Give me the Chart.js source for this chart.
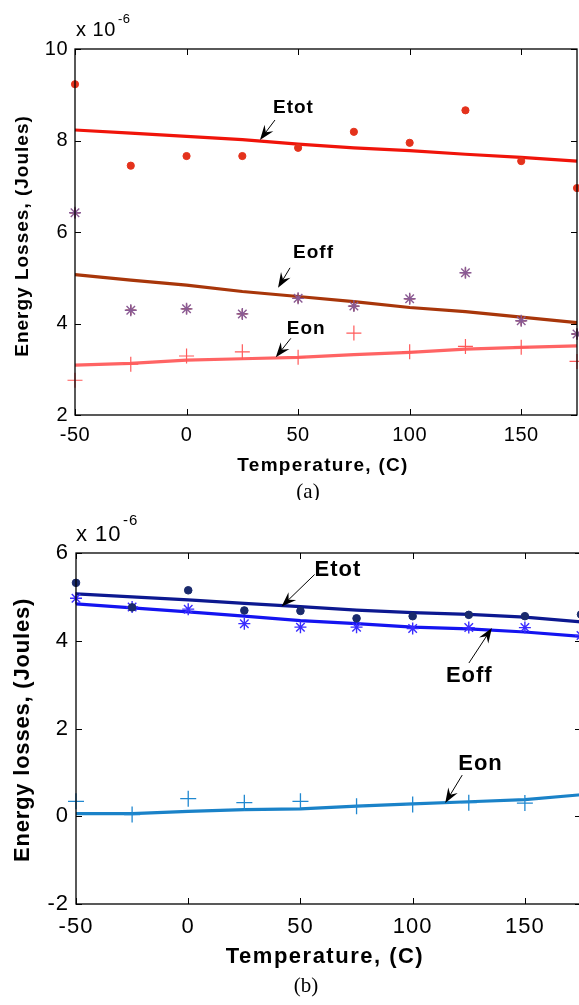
<!DOCTYPE html>
<html lang="en">
<head>
<meta charset="UTF-8">
<title>Energy losses vs temperature</title>
<script src="https://cdn.jsdelivr.net/npm/chart.js"></script>
<style>
  html, body { margin: 0; padding: 0; background: #fff; overflow: hidden; }
  #wrap { position: relative; width: 579px; height: 1005px; overflow: hidden; }
  canvas { position: absolute; left: 0; }
  #chartA { top: 0; }
  #chartB { top: 500px; }
</style>
</head>
<body>
<div id="wrap">
  <canvas id="chartA" width="579" height="500"></canvas>
  <canvas id="chartB" width="590" height="505"></canvas>
</div>
<script>
// temperatures (C), shared by both panels
const temps = [-50, -25, 0, 25, 50, 75, 100, 125, 150, 175];
const xTicks = [-50, 0, 50, 100, 150];

// panel (a), values x 10^-6 J
const aEtotPts = [9.23, 7.45, 7.66, 7.66, 7.84, 8.19, 7.95, 8.66, 7.55, 6.96];
const aEtotFit = [8.23, 8.16, 8.09, 8.02, 7.92, 7.84, 7.78, 7.70, 7.63, 7.55];
const aEoffPts = [6.42, 4.29, 4.32, 4.21, 4.55, 4.38, 4.54, 5.11, 4.06, 3.77];
const aEoffFit = [5.07, 4.95, 4.84, 4.70, 4.59, 4.48, 4.35, 4.26, 4.14, 4.02];
const aEonPts  = [2.76, 3.11, 3.29, 3.38, 3.26, 3.79, 3.38, 3.50, 3.48, 3.17];
const aEonFit  = [3.09, 3.13, 3.20, 3.23, 3.26, 3.32, 3.37, 3.44, 3.48, 3.51];
const aYTicks  = [2, 4, 6, 8, 10];

// panel (b), values x 10^-6 J
const bEtotPts = [5.32, 4.76, 5.15, 4.69, 4.68, 4.51, 4.56, 4.59, 4.56, 4.60];
const bEtotFit = [5.07, 5.00, 4.93, 4.85, 4.78, 4.70, 4.64, 4.60, 4.54, 4.43];
const bEoffPts = [4.97, 4.77, 4.72, 4.39, 4.31, 4.31, 4.28, 4.30, 4.30, 4.12];
const bEoffFit = [4.84, 4.75, 4.66, 4.56, 4.46, 4.39, 4.31, 4.27, 4.20, 4.10];
const bEonPts  = [0.34, 0.04, 0.40, 0.31, 0.34, 0.23, 0.27, 0.31, 0.30, null];
const bEonFit  = [0.06, 0.06, 0.11, 0.15, 0.17, 0.23, 0.28, 0.33, 0.38, 0.49];
const bYTicks  = [-2, 0, 2, 4, 6];

const pts = arr => temps.map((t, i) => ({ x: t, y: arr[i] }));

function fitLine(arr, color) {
  return { data: pts(arr), showLine: true, borderColor: color, borderWidth: 3.2,
           pointRadius: 0, tension: 0, order: 2 };
}
function marks(arr, style, color, r, w) {
  return { data: pts(arr), showLine: false, pointStyle: style, pointRadius: r,
           borderColor: color, backgroundColor: color, borderWidth: w || 1.3,
           clip: 10, order: 1 };
}

function drawArrow(ctx, tx, ty, hx, hy) {
  const dx = tx - hx, dy = ty - hy, len = Math.hypot(dx, dy);
  const ux = dx / len, uy = dy / len, nx = -uy, ny = ux;
  const L = 15, W = 5.5;
  ctx.beginPath();
  ctx.lineWidth = 1;
  ctx.moveTo(tx, ty);
  ctx.lineTo(hx + ux * L * 0.6, hy + uy * L * 0.6);
  ctx.stroke();
  ctx.beginPath();
  ctx.moveTo(hx, hy);
  ctx.lineTo(hx + ux * L + nx * W, hy + uy * L + ny * W);
  ctx.lineTo(hx + ux * L * 0.65, hy + uy * L * 0.65);
  ctx.lineTo(hx + ux * L - nx * W, hy + uy * L - ny * W);
  ctx.closePath();
  ctx.fill();
}

const overlay = {
  id: 'overlay',
  beforeDraw(chart, args, o) { chart.ctx.letterSpacing = o.tickSpacing; },
  afterDraw(chart, args, o) {
    const { ctx, chartArea: a, scales: { x, y } } = chart;
    ctx.save();
    ctx.letterSpacing = '0px';
    ctx.strokeStyle = '#000';
    ctx.fillStyle = '#000';
    ctx.lineWidth = 1.3;
    ctx.strokeRect(a.left, a.top, a.right - a.left, a.bottom - a.top);
    ctx.beginPath();
    x.ticks.forEach(t => {
      const px = Math.round(x.getPixelForValue(t.value)) + 0.5;
      ctx.moveTo(px, a.bottom); ctx.lineTo(px, a.bottom - 6);
      ctx.moveTo(px, a.top); ctx.lineTo(px, a.top + 6);
    });
    y.ticks.forEach(t => {
      const py = Math.round(y.getPixelForValue(t.value)) + 0.5;
      ctx.moveTo(a.left, py); ctx.lineTo(a.left + 6, py);
      ctx.moveTo(a.right, py); ctx.lineTo(a.right - 6, py);
    });
    ctx.lineWidth = 1;
    ctx.stroke();

    // arrows with labels
    o.notes.forEach(n => {
      const hx = x.getPixelForValue(n.at[0]), hy = y.getPixelForValue(n.at[1]);
      drawArrow(ctx, hx + n.tail[0], hy + n.tail[1], hx, hy);
      ctx.font = o.noteFont;
      ctx.letterSpacing = '1px';
      ctx.textAlign = 'left';
      ctx.textBaseline = 'middle';
      ctx.fillText(n.text, hx + n.label[0], hy + n.label[1]);
    });

    // exponent
    ctx.textBaseline = 'alphabetic';
    ctx.textAlign = 'left';
    ctx.font = o.expFont;
    ctx.letterSpacing = o.tickSpacing;
    ctx.fillText('x 10', o.exp[0], o.exp[1]);
    ctx.font = o.supFont;
    ctx.fillText('-6', o.sup[0], o.sup[1]);

    // axis titles
    ctx.font = o.titleFont;
    ctx.letterSpacing = o.titleSpacing;
    ctx.textAlign = 'center';
    ctx.fillText(o.xTitle, o.xTitlePos[0], o.xTitlePos[1]);
    ctx.save();
    ctx.letterSpacing = o.yTitleSpacing;
    ctx.translate(o.yTitlePos[0], o.yTitlePos[1]);
    ctx.rotate(-Math.PI / 2);
    ctx.textBaseline = 'middle';
    ctx.fillText(o.yTitle, 0, 0);
    ctx.restore();

    // panel caption
    ctx.letterSpacing = '0px';
    ctx.font = '21px "Liberation Serif", serif';
    ctx.textBaseline = 'alphabetic';
    ctx.fillText(o.caption, o.captionPos[0], o.captionPos[1]);
    ctx.restore();
  }
};

function makeChart(id, datasets, yTicks, geo, extra) {
  const tickFont = { family: '"Liberation Sans", Arial, sans-serif', size: geo.tickSize };
  return new Chart(document.getElementById(id), {
    type: 'scatter',
    data: { datasets },
    options: {
      responsive: false,
      animation: false,
      events: [],
      layout: { autoPadding: false,
                padding: { left: 0, top: geo.top, right: geo.right, bottom: 0 } },
      plugins: { legend: { display: false }, tooltip: { enabled: false }, overlay: extra },
      scales: {
        x: {
          type: 'linear', min: -50, max: 175,
          afterBuildTicks: s => { s.ticks = xTicks.map(v => ({ value: v })); },
          afterFit: s => { s.height = geo.xAxisH; s.paddingLeft = 0; s.paddingRight = 0; },
          grid: { display: false, drawTicks: false },
          border: { display: false },
          ticks: { color: '#000', font: tickFont, padding: geo.xPad, maxRotation: 0,
                   callback: v => String(v) }
        },
        y: {
          type: 'linear', min: yTicks[0], max: yTicks[yTicks.length - 1],
          afterBuildTicks: s => { s.ticks = yTicks.map(v => ({ value: v })); },
          afterFit: s => { s.width = geo.yAxisW; s.paddingTop = 0; s.paddingBottom = 0; },
          grid: { display: false, drawTicks: false },
          border: { display: false },
          ticks: { color: '#000', font: tickFont, padding: 7, callback: v => String(v) }
        }
      }
    },
    plugins: [overlay]
  });
}

makeChart('chartA', [
  fitLine(aEtotFit, '#f0140a'),
  fitLine(aEoffFit, '#a8360a'),
  fitLine(aEonFit, '#ff6464'),
  marks(aEtotPts, 'circle', '#e4321c', 3.6, 1),
  marks(aEoffPts, 'star', '#8a5a94', 6, 1.4),
  marks(aEoffPts, 'cross', '#8c1c12', 5, 1.3),
  marks(aEonPts, 'cross', '#ff5a5a', 7.5, 1.2)
], aYTicks,
  { top: 49, right: 2, xAxisH: 85, yAxisW: 75, tickSize: 20, xPad: 8 },
  {
    tickSpacing: '0.5px',
    noteFont: 'bold 19px "Liberation Sans", Arial, sans-serif',
    notes: [
      { text: 'Etot', at: [32.9, 8.01], tail: [15, -20], label: [13, -32] },
      { text: 'Eoff', at: [41.0, 4.78], tail: [12, -20], label: [15, -35] },
      { text: 'Eon',  at: [40.0, 3.26], tail: [15, -19], label: [11, -29] }
    ],
    expFont: '20px "Liberation Sans", Arial, sans-serif',
    supFont: '13px "Liberation Sans", Arial, sans-serif',
    exp: [76, 36], sup: [118, 23],
    titleFont: 'bold 19px "Liberation Sans", Arial, sans-serif',
    titleSpacing: '1.3px', yTitleSpacing: '1px',
    xTitle: 'Temperature, (C)', xTitlePos: [323, 471],
    yTitle: 'Energy Losses, (Joules)', yTitlePos: [23, 236],
    caption: '(a)', captionPos: [308, 498]
  });

makeChart('chartB', [
  fitLine(bEtotFit, '#0c1890'),
  fitLine(bEoffFit, '#1414f0'),
  fitLine(bEonFit, '#1a82c8'),
  marks(bEtotPts, 'circle', '#1a2a6c', 3.8, 1),
  marks(bEoffPts, 'star', '#3a2cff', 6, 1.4),
  marks(bEonPts, 'cross', '#2088d0', 8, 1.3)
], bYTicks,
  { top: 53, right: 9, xAxisH: 101, yAxisW: 76, tickSize: 22, xPad: 10 },
  {
    tickSpacing: '1px',
    noteFont: 'bold 22px "Liberation Sans", Arial, sans-serif',
    notes: [
      { text: 'Etot', at: [41.6, 4.78], tail: [33, -32], label: [33, -37] },
      { text: 'Eoff', at: [135.3, 4.29], tail: [-23, 35], label: [-46, 48] },
      { text: 'Eon',  at: [114.5, 0.30], tail: [17, -28], label: [13, -39] }
    ],
    expFont: '22px "Liberation Sans", Arial, sans-serif',
    supFont: '15px "Liberation Sans", Arial, sans-serif',
    exp: [76, 41], sup: [123, 25],
    titleFont: 'bold 22px "Liberation Sans", Arial, sans-serif',
    titleSpacing: '1.5px', yTitleSpacing: '0.8px',
    xTitle: 'Temperature, (C)', xTitlePos: [325, 463],
    yTitle: 'Energy losses, (Joules)', yTitlePos: [23, 230],
    caption: '(b)', captionPos: [306, 492]
  });
</script>
</body>
</html>
